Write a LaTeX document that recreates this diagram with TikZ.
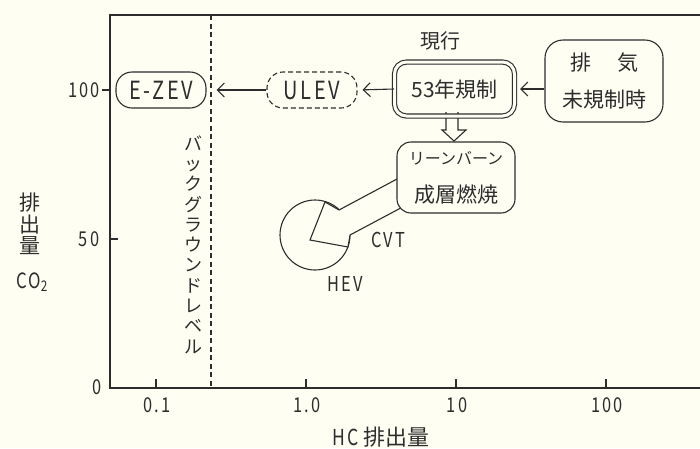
\documentclass[tikz,border=0pt]{standalone}
\usepackage{fontspec}
\setmainfont{Noto Sans CJK JP}
\newfontfamily\lat[FakeStretch=0.8,LetterSpace=10]{Noto Sans CJK JP}
\usetikzlibrary{arrows.meta}
\definecolor{bg}{RGB}{254,254,243}
\definecolor{ink}{RGB}{45,45,45}
\begin{document}
\begin{tikzpicture}[x=1pt,y=-1pt,line width=1.1pt,
  every node/.style={text=ink},
  stad/.style={draw=ink,fill=bg,rounded corners=16pt,minimum width=90pt,minimum height=36pt,inner sep=0pt,font=\fontsize{25}{25}\selectfont\lat},
  arr/.style={draw=ink,-{Straight Barb[length=7pt,width=14pt]}},
  ticklab/.style={font=\fontsize{20.5}{20.5}\selectfont\lat},
  cjk/.style={font=\fontsize{21}{21}\selectfont}]
\useasboundingbox (0,0) rectangle (700,448);
\fill[bg] (0,0) rectangle (700,448);
% axes
\coordinate (tl) at (110,15);
\coordinate (tr) at (700,15);
\coordinate (o) at (110,388);
\coordinate (br) at (700,388);
\draw[ink] (tr) -- (tl) -- (o) -- (br);
% y ticks
\draw[ink] (102,90) -- (110,90);
\draw[ink] (110,239) -- (118,239);
\node[ticklab] (y100) at (84,90) {100};
\node[ticklab] (y50) at (89,239) {50};
\node[ticklab] (y0) at (97,387) {0};
% x ticks
\foreach \x/\l/\n in {156/0.1/a,306/1.0/b,456/10/c,606/100/d}{
  \draw[ink] (\x,388) -- (\x,379);
  \node[ticklab] (x\n) at (\x+1,405) {\l};
}
% axis labels
\node[align=center,font=\fontsize{21}{21.5}\selectfont] (ylab) at (29.5,224) {排\\出\\量};
\node[font=\fontsize{21}{21}\selectfont\lat] (co2) at (32,282) {CO\textsubscript{2}};
\node[font=\fontsize{22}{22}\selectfont] (xlab) at (381,437) {{\lat HC} 排出量};
% background level
\draw[ink,dash pattern=on 5pt off 3.5pt] (211,15) -- (211,388);
\node[align=center,font=\fontsize{18}{20.3}\selectfont] (bglev) at (193,244.5) {バ\\ッ\\ク\\グ\\ラ\\ウ\\ン\\ド\\レ\\ベ\\ル};
% boxes on top row
\node[stad] (ezev) at (161,90) {E-ZEV};
\node[stad,dash pattern=on 5pt off 3pt] (ulev) at (312,90) {ULEV};
\node[font=\fontsize{20}{20}\selectfont] (cur) at (440,41) {現行};
\node[draw=ink,fill=bg,rounded corners=18pt,minimum width=118pt,minimum height=82pt,align=center,inner sep=0pt,font=\fontsize{21}{37}\selectfont] (haiki) at (604,81) {排\hspace{26pt}気\\未規制時};
% HEV circle and fat arrow
\node[circle,draw=ink,minimum size=70pt,inner sep=0pt] (hevc) at (315,235) {};
\draw[ink,fill=bg,line join=miter] (310,240) -- (325,202) -- (339,210) -- (412,171) -- (412,202) -- (350,235) -- (348,247) -- cycle;
\node[font=\fontsize{20.5}{20.5}\selectfont\lat] (hev) at (345,284) {HEV};
\node[font=\fontsize{20.5}{20.5}\selectfont\lat] (cvt) at (388,240) {CVT};
% hollow down arrow
\draw[ink,fill=bg] (446,112) -- (446,130) -- (442,130) -- (454,141) -- (466,130) -- (458,130) -- (458,112);
% regulation box
\node[draw=ink,double=bg,double distance=3pt,rounded corners=12pt,minimum width=120pt,minimum height=54pt,inner sep=0pt,cjk] (reg) at (454.5,89) {53年規制};
% lean box
\node[draw=ink,fill=bg,rounded corners=14pt,minimum width=118pt,minimum height=71pt,align=center,inner sep=0pt,font=\fontsize{21}{38}\selectfont] (lean) at (456,177.5) {{\fontsize{16}{16}\selectfont リーンバーン}\\成層燃焼};
% arrows
\draw[arr,shorten >=10pt] (ulev.west) -- (ezev.east);
\draw[arr,shorten >=5pt] (reg.west) -- (ulev.east);
\draw[arr,shorten >=5pt] (reg.east -| haiki.west) -- (reg.east);
\end{tikzpicture}
\end{document}
